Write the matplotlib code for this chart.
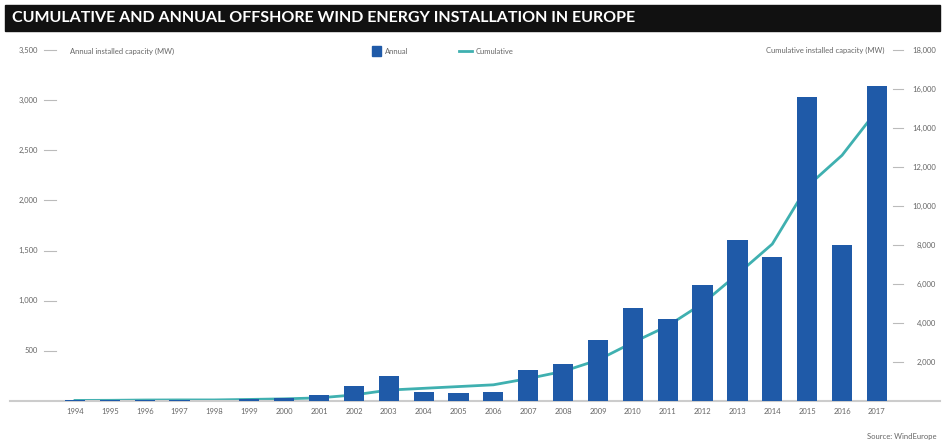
import matplotlib.pyplot as plt
import matplotlib.transforms as mtransforms
from matplotlib.patches import Rectangle
from matplotlib.lines import Line2D

years = [str(y) for y in range(1994, 2018)]
annual = [5, 5, 5, 5, 3, 24, 30, 55, 150, 250, 90, 80, 85, 310, 370, 610,
          930, 820, 1160, 1610, 1440, 3030, 1560, 3140]
cumulative = [30, 35, 50, 55, 55, 80, 110, 160, 310, 560, 650, 740, 830, 1150,
              1520, 2100, 3000, 3850, 5000, 6500, 8050, 11000, 12600, 14900]
left_ticks = [500, 1000, 1500, 2000, 2500, 3000, 3500]
right_ticks = [2000, 4000, 6000, 8000, 10000, 12000, 14000, 16000, 18000]

bar_color = "#1f5aa8"
line_color = "#3fb0b0"
text_color = "#666666"

W, H = 947, 445
fig = plt.figure(figsize=(W / 100, H / 100), dpi=100)
plt.rcParams['font.family'] = ['Lato', 'DejaVu Sans']

# axes span: x 10..940 px, y 50..401 px
ax = fig.add_axes([10 / W, (H - 401) / H, 930 / W, 351 / H])
ax2 = ax.twinx()
ax.set_zorder(ax2.get_zorder() + 1)
ax.patch.set_visible(False)

x = list(range(len(years)))
ax.bar(x, annual, width=0.58, color=bar_color, zorder=3)
ax2.plot(x, cumulative, color=line_color, linewidth=2.0)

for a in (ax, ax2):
    a.set_xlim(-1.864, 24.81)
    for s in a.spines.values():
        s.set_visible(False)
    a.set_yticks([])
ax.set_ylim(0, 3500)
ax2.set_ylim(0, 18000)

ax.spines['bottom'].set_visible(True)
ax.spines['bottom'].set_color("#cccccc")
ax.spines['bottom'].set_linewidth(1.5)
ax.set_xticks(x)
ax.set_xticklabels(years, fontsize=5.5, color=text_color)
ax.tick_params(axis='x', length=0, pad=5)

# left tick labels + dashes
tl = mtransforms.blended_transform_factory(fig.transFigure, ax.transData)
for v in left_ticks:
    ax.text(38 / W, v, f"{v:,}", transform=tl, ha='right', va='center',
            fontsize=5.5, color=text_color)
    ax.add_line(Line2D([44 / W, 56 / W], [v, v], transform=tl, color="#bbbbbb",
                       linewidth=0.8, clip_on=False))

# right tick labels + dashes
tr = mtransforms.blended_transform_factory(fig.transFigure, ax2.transData)
for v in right_ticks:
    ax2.text(936 / W, v, f"{v:,}", transform=tr, ha='right', va='center',
             fontsize=5.5, color=text_color)
    ax2.add_line(Line2D([893 / W, 903 / W], [v, v], transform=tr, color="#bbbbbb",
                        linewidth=0.8, clip_on=False))

# axis titles
fig.text(70 / W, 1 - 51 / H, "Annual installed capacity (MW)", fontsize=5.5,
         color=text_color, ha='left', va='center')
fig.text(884 / W, 1 - 50 / H, "Cumulative installed capacity (MW)", fontsize=5.5,
         color=text_color, ha='right', va='center')

# legend
fig.patches.append(Rectangle((372 / W, 1 - 56 / H), 9 / W, 10 / H,
                             transform=fig.transFigure, color=bar_color))
fig.text(385 / W, 1 - 51 / H, "Annual", fontsize=5.5, color=text_color,
         ha='left', va='center')
fig.lines.append(Line2D([459 / W, 472 / W], [1 - 51 / H, 1 - 51 / H],
                        transform=fig.transFigure, color=line_color, linewidth=2))
fig.text(476 / W, 1 - 51 / H, "Cumulative", fontsize=5.5, color=text_color,
         ha='left', va='center')

# title bar
fig.patches.append(Rectangle((5 / W, 1 - 31 / H), 935 / W, 26 / H,
                             transform=fig.transFigure, color="#111111"))
fig.text(12 / W, 1 - 18 / H, "CUMULATIVE AND ANNUAL OFFSHORE WIND ENERGY INSTALLATION IN EUROPE",
         fontsize=11.5, fontweight='bold', color="white", ha='left', va='center')

fig.text(936 / W, 1 - 436 / H, "Source: WindEurope", fontsize=5.5,
         color=text_color, ha='right', va='center')

fig.savefig("out.png", dpi=100, facecolor="white")
